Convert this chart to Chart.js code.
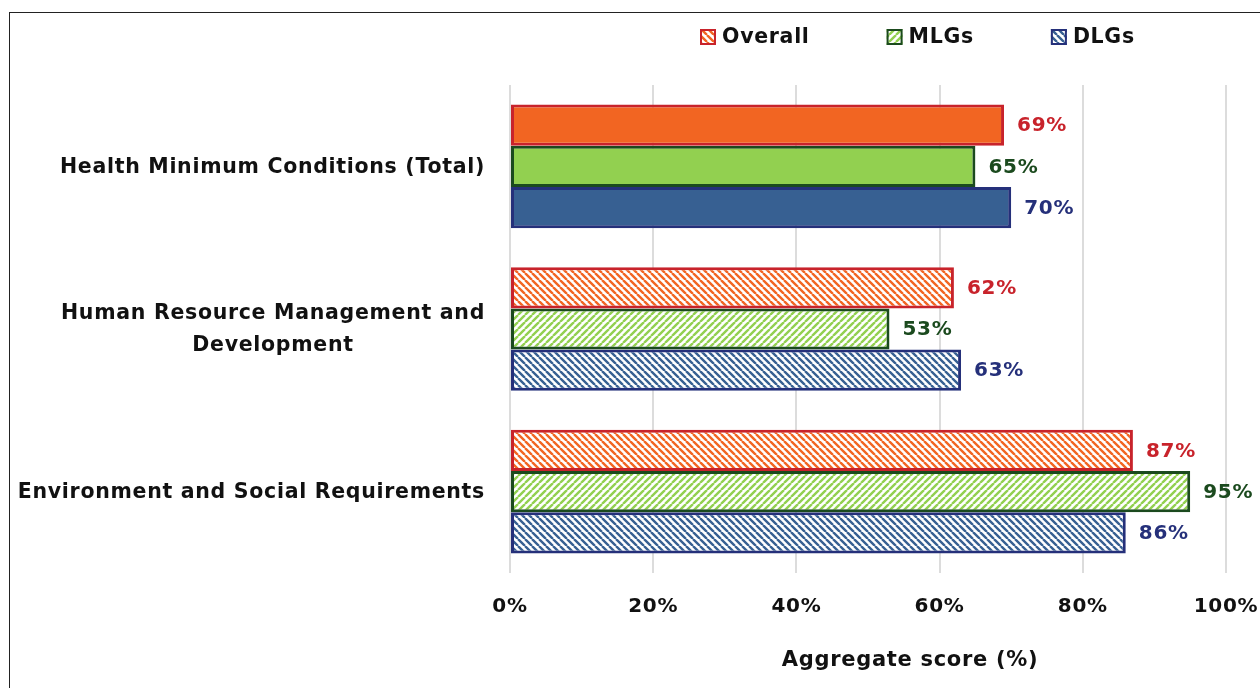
<!DOCTYPE html>
<html>
<head>
<meta charset="utf-8">
<script src="https://cdn.jsdelivr.net/npm/chart.js@4.4.0/dist/chart.umd.min.js"></script>
<style>
  html, body { margin: 0; padding: 0; background: #fff; }
  #wrap { position: relative; width: 1260px; height: 688px; overflow: hidden; }
  #frame { position: absolute; left: 9px; top: 12px; width: 1300px; height: 700px;
           border-left: 1.5px solid #222; border-top: 1.5px solid #222; }
  canvas { position: absolute; left: 0; top: 0; }
</style>
</head>
<body>
<div id="wrap">
  <div id="frame"></div>
  <canvas id="myChart" width="1260" height="688"></canvas>
</div>
<script>
'use strict';

// categories (second one wraps onto two lines)
let categories = [
    'Health Minimum Conditions (Total)',
    ['Human Resource Management and', 'Development'],
    'Environment and Social Requirements'
];
// series values in percent
let overallValues = [69, 62, 87];
let mlgValues = [65, 53, 95];
let dlgValues = [70, 63, 86];
// tick labels for the x axis
let tickValues = [0, 20, 40, 60, 80, 100];
let seriesNames = ['Overall', 'MLGs', 'DLGs'];
let axisTitle = 'Aggregate score (%)';

let fontName = '"DejaVu Sans", sans-serif';
let spacing = '0.7px';

//make a small striped pattern, dir '\\' or '/'
function hatch(color, dir) {
    let s = 7;
    let tile = document.createElement('canvas');
    tile.width = s;
    tile.height = s;
    let t = tile.getContext('2d');
    t.fillStyle = '#ffffff';
    t.fillRect(0, 0, s, s);
    t.strokeStyle = color;
    t.lineWidth = 2.4;
    t.beginPath();
    for (let k = -s; k <= s; k += s) {
        if (dir === '/') {
            t.moveTo(k, s);
            t.lineTo(k + s, 0);
        } else {
            t.moveTo(k, 0);
            t.lineTo(k + s, s);
        }
    }
    t.stroke();
    return t.createPattern(tile, 'repeat');
}

let orange = '#F26522';
let green = '#92D050';
let blue = '#376092';
let orangeHatch = hatch(orange, '\\');
let greenHatch = hatch(green, '/');
let blueHatch = hatch(blue, '\\');

let seriesStyle = [
    { fill: [orange, orangeHatch, orangeHatch], border: '#C8232B', label: '#C8232B', legend: orangeHatch },
    { fill: [green, greenHatch, greenHatch], border: '#1B4A1E', label: '#1B4A1E', legend: greenHatch },
    { fill: [blue, blueHatch, blueHatch], border: '#25307A', label: '#25307A', legend: blueHatch }
];
let seriesValues = [overallValues, mlgValues, dlgValues];

let datasets = [];
for (let i = 0; i < seriesNames.length; i++) {
    datasets.push({
        label: seriesNames[i],
        data: seriesValues[i],
        backgroundColor: seriesStyle[i].fill,
        borderColor: seriesStyle[i].border,
        borderWidth: 3,
        borderSkipped: false,
        categoryPercentage: 0.76,
        barPercentage: 1.0
    });
}

//value labels, category labels, legend and axis title
let extrasPlugin = {
    id: 'extras',
    beforeDraw(chart) {
        // wider letters for the tick labels too
        chart.ctx.letterSpacing = spacing;
    },
    afterDatasetsDraw(chart) {
        let ctx = chart.ctx;
        let area = chart.chartArea;
        ctx.save();
        ctx.letterSpacing = spacing;
        // value labels next to the bars
        ctx.font = 'bold 20px ' + fontName;
        ctx.textBaseline = 'middle';
        ctx.textAlign = 'left';
        chart.data.datasets.forEach(function (ds, di) {
            let meta = chart.getDatasetMeta(di);
            meta.data.forEach(function (bar, j) {
                ctx.fillStyle = seriesStyle[di].label;
                ctx.fillText(ds.data[j] + '%', bar.x + 13, bar.y + 1);
            });
        });

        // category labels, block right aligned, lines centered in block
        let yScale = chart.scales.y;
        ctx.font = 'bold 20.5px ' + fontName;
        ctx.fillStyle = '#111';
        ctx.textAlign = 'center';
        let rightEdge = area.left - 25;
        categories.forEach(function (cat, i) {
            let lines = Array.isArray(cat) ? cat : [cat];
            let widest = 0;
            lines.forEach(function (l) { widest = Math.max(widest, ctx.measureText(l).width); });
            let cx = rightEdge - widest / 2;
            let cy = yScale.getPixelForValue(i);
            let lineGap = 32;
            let y0 = cy - (lines.length - 1) * lineGap / 2;
            lines.forEach(function (l, k) {
                ctx.fillText(l, cx, y0 + k * lineGap + 1);
            });
        });

        // axis title
        ctx.font = 'bold 21px ' + fontName;
        ctx.fillText(axisTitle, 910, 661);

        // legend
        ctx.font = 'bold 20.5px ' + fontName;
        ctx.textAlign = 'left';
        let lx = 700;
        let ly = 37;
        seriesNames.forEach(function (name, i) {
            ctx.fillStyle = seriesStyle[i].legend;
            ctx.fillRect(lx, ly - 8, 16, 16);
            ctx.strokeStyle = seriesStyle[i].border;
            ctx.lineWidth = 2;
            ctx.strokeRect(lx + 1, ly - 7, 14, 14);
            ctx.fillStyle = '#111';
            ctx.fillText(name, lx + 22, ly + 1);
            lx += 22 + ctx.measureText(name).width + 77;
        });
        ctx.restore();
    }
};

let ctx = document.getElementById('myChart').getContext('2d');
let chart = new Chart(ctx, {
    type: 'bar',
    data: {
        labels: categories,
        datasets: datasets
    },
    options: {
        indexAxis: 'y',
        responsive: false,
        animation: false,
        layout: {
            padding: { top: 85, right: 34, left: 0, bottom: 0 }
        },
        plugins: {
            legend: { display: false },
            tooltip: { enabled: false }
        },
        scales: {
            x: {
                min: 0,
                max: 100,
                afterBuildTicks: function (scale) {
                    scale.ticks = tickValues.map(function (v) { return { value: v }; });
                },
                afterFit: function (scale) {
                    scale.height = 115;
                    scale.paddingLeft = 0;
                    scale.paddingRight = 0;
                },
                grid: {
                    color: '#DCDCDC',
                    lineWidth: 2,
                    drawTicks: false
                },
                border: { display: false },
                ticks: {
                    padding: 22,
                    color: '#111',
                    font: { family: fontName, size: 20, weight: 'bold' },
                    callback: function (v) { return v + '%'; }
                }
            },
            y: {
                afterFit: function (scale) {
                    scale.width = 510;
                },
                grid: { display: false, drawTicks: false },
                border: { display: false },
                ticks: { display: false }
            }
        }
    },
    plugins: [extrasPlugin]
});
</script>
</body>
</html>
